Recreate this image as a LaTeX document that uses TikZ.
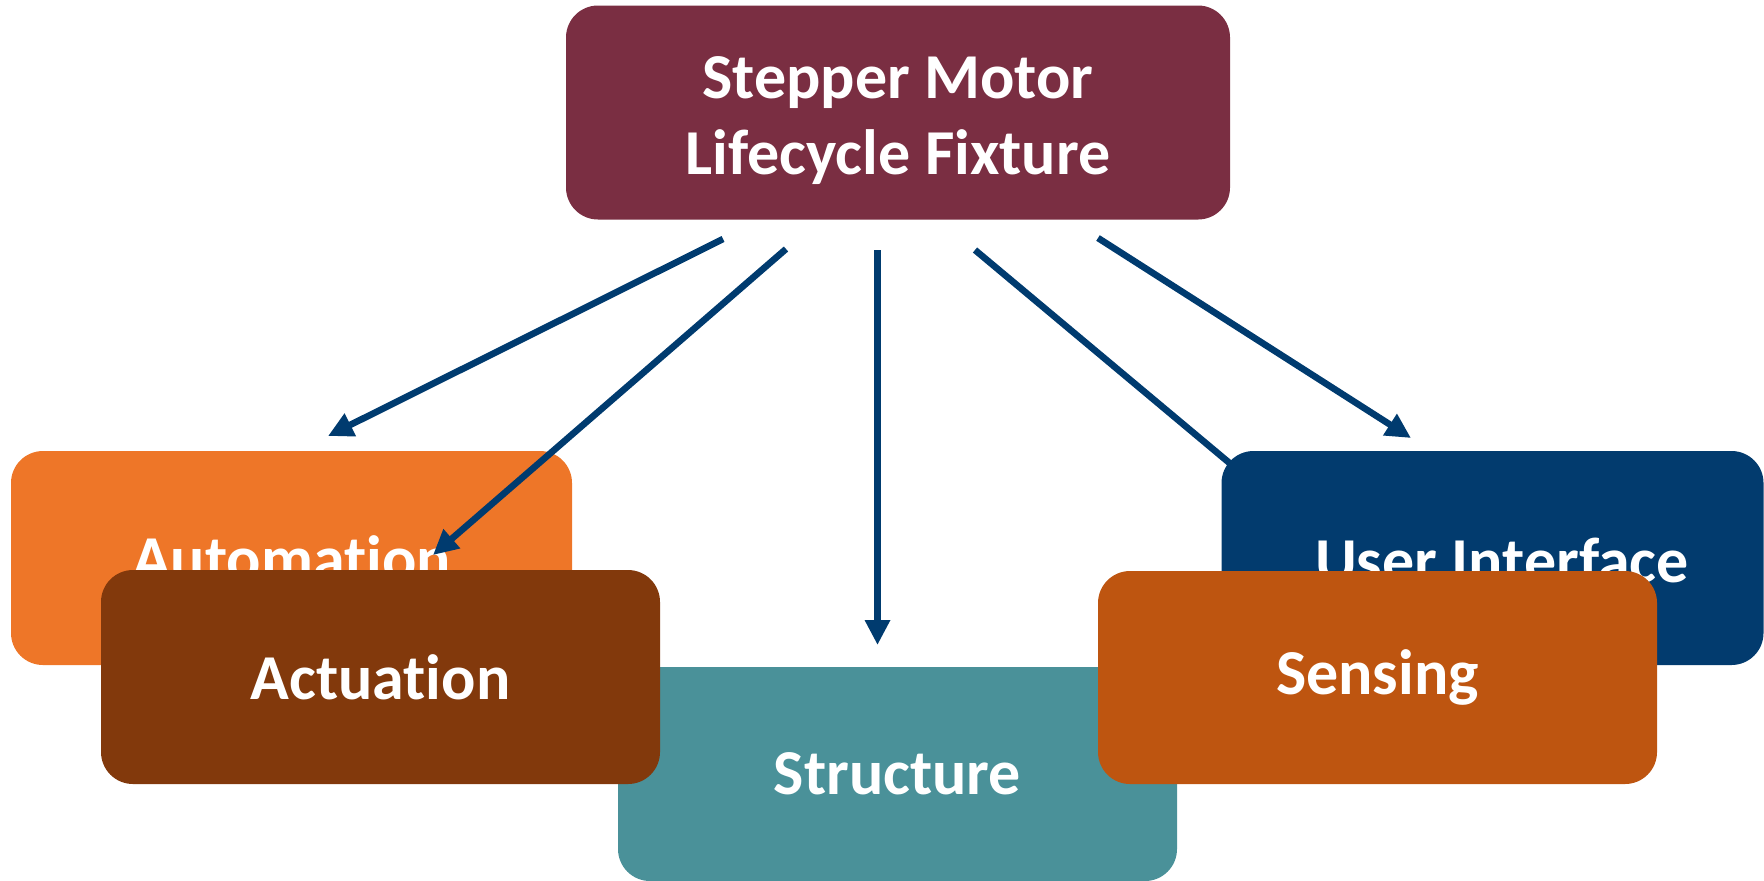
\documentclass[tikz,border=0pt]{standalone}
\usepackage{fontspec}
\setmainfont{Carlito}[Ligatures=NoCommon]
\usetikzlibrary{arrows.meta}
\definecolor{cTop}{HTML}{7A2E42}
\definecolor{cAuto}{HTML}{EE7628}
\definecolor{cAct}{HTML}{82390C}
\definecolor{cStruct}{HTML}{4A9199}
\definecolor{cUI}{HTML}{023B6E}
\definecolor{cSens}{HTML}{BE5510}
\definecolor{cArrow}{HTML}{003B6F}
\tikzset{
  box/.style={rounded corners=16pt, minimum width=279.5pt, minimum height=107pt,
    inner sep=0pt, text=white, font=\fontsize{32pt}{38pt}\selectfont\bfseries, align=center},
  lbl/.style={inner sep=0pt, text=white, font=\fontsize{32pt}{38pt}\selectfont\bfseries, align=center},
  conn/.style={draw=cArrow, line width=3.3pt, -{Triangle[length=12.5pt,width=12pt]}}
}
\begin{document}
\begin{tikzpicture}[x=0.5pt,y=-0.5pt]
\useasboundingbox (0,0) rectangle (1764,880);
% top node
\node[box, fill=cTop, minimum width=332pt] (top) at (898,112.5) {};
\node[lbl] (toplbl) at (898,121) {Stepper Motor\\Lifecycle Fixture};
% automation (behind)
\node[box, fill=cAuto, minimum width=280.5pt] (auto) at (291.5,558) {Automation};
% connector coordinates
\coordinate (s1) at (723,239);
\coordinate (e1) at (328,436);
\coordinate (s2) at (786,249);
\coordinate (e2) at (433,555);
\coordinate (s3) at (877.5,250);
\coordinate (e3) at (877.5,645);
\coordinate (s4) at (975,250);
\coordinate (e4) at (1300,522);
\coordinate (s5) at (1098,238);
\coordinate (e5) at (1411,438);
\draw[conn] (s1) -- (e1);
\draw[conn] (s2) -- (e2);
\draw[conn] (s3) -- (e3);
\draw[conn] (s4) -- (e4);
\draw[conn] (s5) -- (e5);
% user interface
\node[box, fill=cUI, minimum width=271pt] (ui) at (1492.5,558) {};
\node[lbl] (uilbl) at (1502,560) {User Interface};
% structure
\node[box, fill=cStruct] (struct) at (897.5,774) {Structure};
% actuation
\node[box, fill=cAct] (act) at (380.5,677) {Actuation};
% sensing
\node[box, fill=cSens, minimum height=106.5pt] (sens) at (1377.5,677.5) {Sensing};
\end{tikzpicture}
\end{document}
